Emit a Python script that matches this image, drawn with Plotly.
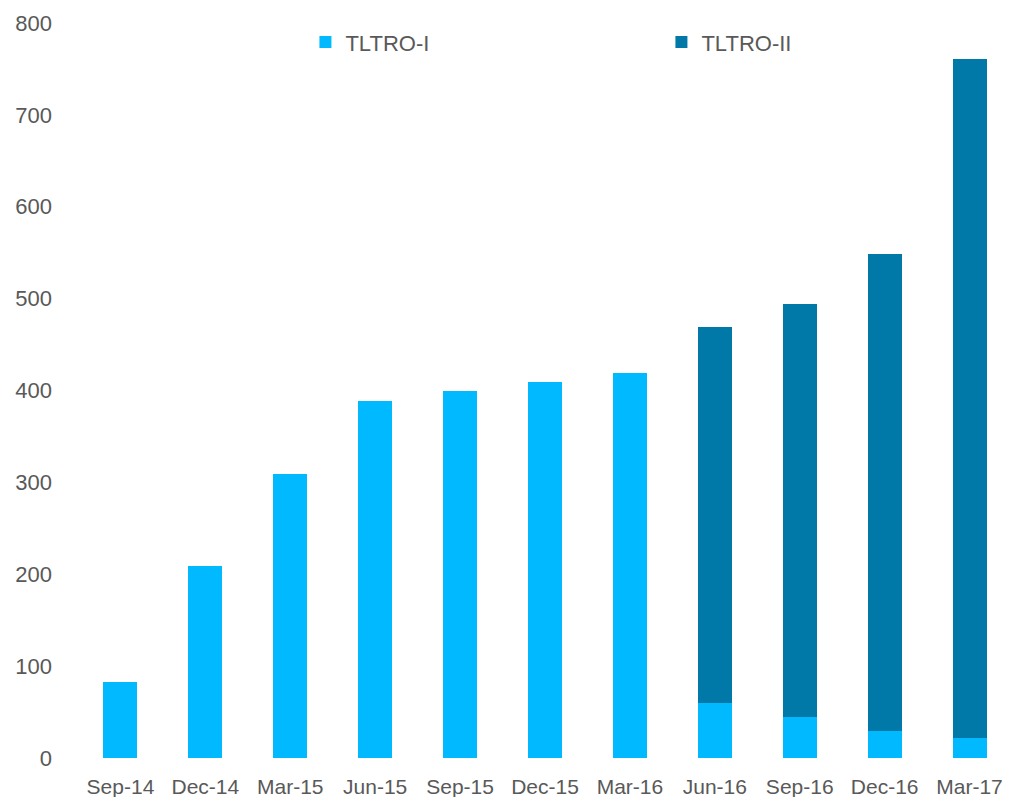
import plotly.graph_objects as go

categories = ["Sep-14", "Dec-14", "Mar-15", "Jun-15", "Sep-15", "Dec-15",
              "Mar-16", "Jun-16", "Sep-16", "Dec-16", "Mar-17"]
tltro_1 = [83, 209, 309, 389, 399, 409, 419, 60, 45, 29, 22]
tltro_2 = [0, 0, 0, 0, 0, 0, 0, 409, 449, 520, 739]

C1 = "#00B9FF"
C2 = "#0078A8"
FONT = "Liberation Sans"
GREY = "#595959"

fig = go.Figure()
fig.add_trace(go.Bar(x=categories, y=tltro_1, name="TLTRO-I",
                     marker=dict(color=C1, line=dict(width=0)), width=0.4))
fig.add_trace(go.Bar(x=categories, y=tltro_2, name="TLTRO-II",
                     marker=dict(color=C2, line=dict(width=0)), width=0.4))

fig.update_layout(
    barmode="stack",
    width=1012, height=797,
    margin=dict(l=78, r=0, t=23, b=39, autoexpand=False),
    paper_bgcolor="white", plot_bgcolor="white",
    font=dict(family=FONT, color=GREY, size=22),
    showlegend=True,
    legend=dict(orientation="h", x=0.2435, y=0.974, xanchor="left", yanchor="middle",
                traceorder="normal",
                entrywidth=311, entrywidthmode="pixels",
                font=dict(size=22, color=GREY),
                bgcolor="rgba(0,0,0,0)"),
    xaxis=dict(showgrid=False, showline=False, ticks="",
               tickfont=dict(size=21, color=GREY), ticklabelstandoff=14),
    yaxis=dict(range=[0, 800], dtick=100, showgrid=False, showline=False,
               zeroline=False, ticks="", tickfont=dict(size=22, color=GREY),
               ticklabelstandoff=25),
)

fig.write_html("out.html")
